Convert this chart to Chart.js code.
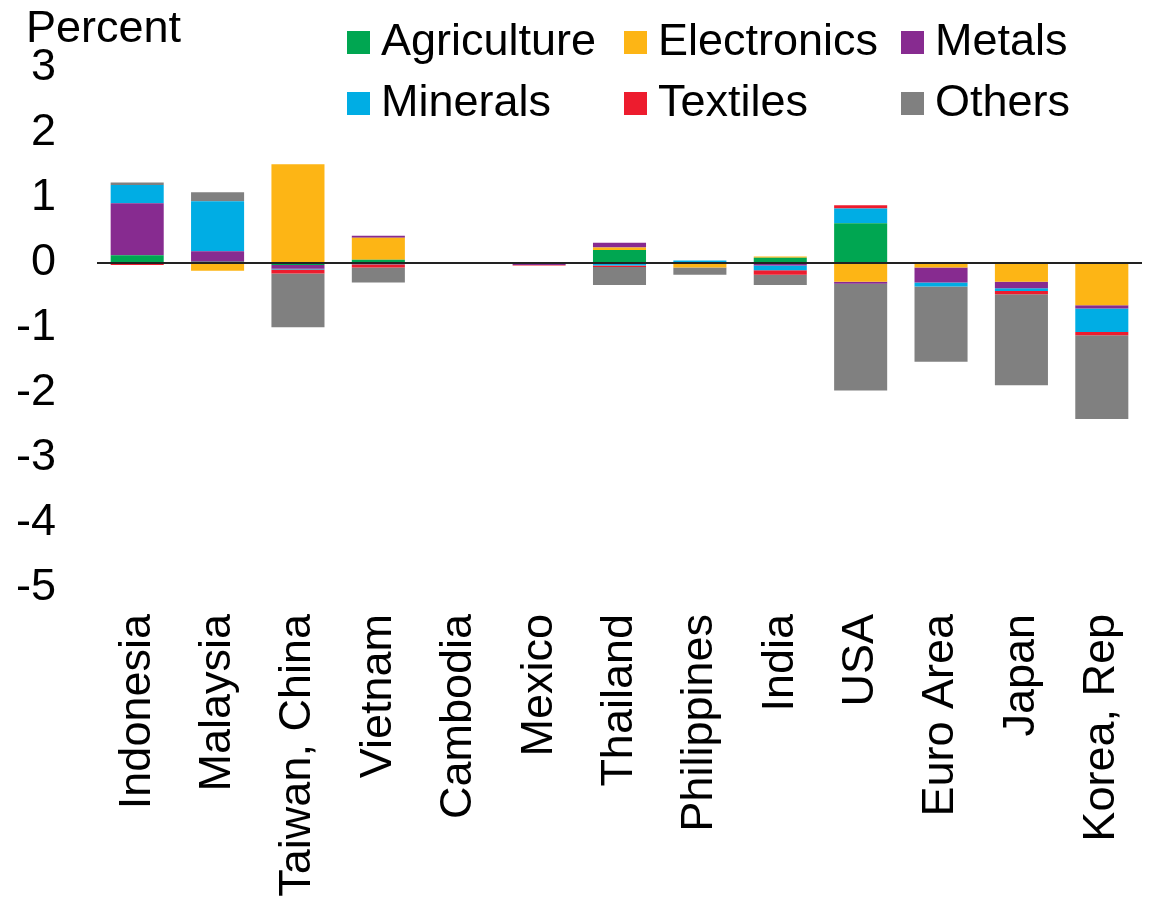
<!DOCTYPE html>
<html>
<head>
<meta charset="utf-8">
<script src="https://cdn.jsdelivr.net/npm/chart.js@4.4.1/dist/chart.umd.min.js"></script>
<style>
  html, body { margin: 0; padding: 0; background: #fff; }
  #wrap { position: relative; width: 1156px; height: 899px; }
</style>
</head>
<body>
<div id="wrap"><canvas id="exportChart"></canvas></div>
<script>
const countries = ['Indonesia', 'Malaysia', 'Taiwan, China', 'Vietnam', 'Cambodia', 'Mexico',
    'Thailand', 'Philippines', 'India', 'USA', 'Euro Area', 'Japan', 'Korea, Rep'];

const agriculture = [0.12, 0.02, -0.03, 0.05, 0.01, 0, 0.20, 0, 0.08, 0.61, 0, 0, 0];
const electronics = [0, -0.12, 1.52, 0.34, 0, 0, 0.04, -0.07, 0.02, -0.29, -0.07, -0.29, -0.65];
const metals      = [0.80, 0.16, -0.06, 0.03, 0, -0.03, 0.07, 0, -0.04, -0.03, -0.23, -0.10, -0.05];
const minerals    = [0.28, 0.77, -0.01, -0.02, 0, 0, -0.04, 0.04, -0.07, 0.23, -0.06, -0.04, -0.36];
const textiles    = [-0.03, 0, -0.06, -0.05, 0, -0.01, -0.02, 0, -0.07, 0.05, 0, -0.05, -0.05];
const others      = [0.04, 0.14, -0.83, -0.23, 0, 0, -0.28, -0.11, -0.16, -1.64, -1.16, -1.40, -1.29];

const yTicks = [3, 2, 1, 0, -1, -2, -3, -4, -5];

const FONT = 'Liberation Sans, Arial, Helvetica, sans-serif';
const FONT_SIZE = 45;

const series = [
    { label: 'Agriculture', data: agriculture, color: '#00a651' },
    { label: 'Electronics', data: electronics, color: '#fdb515' },
    { label: 'Metals',      data: metals,      color: '#872b90' },
    { label: 'Minerals',    data: minerals,    color: '#00ade4' },
    { label: 'Textiles',    data: textiles,    color: '#ed1c2e' },
    { label: 'Others',      data: others,      color: '#808080' }
];

// Zero line on top of the bars, plus the unit label and a 3-column legend
const overlayPlugin = {
    id: 'overlay',
    afterDatasetsDraw(chart) {
        const { ctx, chartArea, scales } = chart;
        const y0 = scales.y.getPixelForValue(0);
        ctx.save();
        ctx.strokeStyle = '#222';
        ctx.lineWidth = 2;
        ctx.beginPath();
        ctx.moveTo(chartArea.left, y0);
        ctx.lineTo(chartArea.right, y0);
        ctx.stroke();
        ctx.restore();
    },
    afterDraw(chart) {
        const ctx = chart.ctx;
        ctx.save();
        ctx.font = FONT_SIZE + 'px ' + FONT;
        ctx.fillStyle = '#000';
        ctx.textBaseline = 'alphabetic';
        ctx.textAlign = 'left';
        ctx.fillText('Percent', 26, 42);

        const colX = [347, 624, 901];
        const rowY = [31, 92];
        series.forEach((s, i) => {
            const x = colX[i % 3];
            const y = rowY[Math.floor(i / 3)];
            ctx.fillStyle = s.color;
            ctx.fillRect(x, y, 23, 23);
            ctx.fillStyle = '#000';
            ctx.fillText(s.label, x + 34, y + 24);
        });
        ctx.restore();
    }
};

new Chart(document.getElementById('exportChart'), {
    type: 'bar',
    data: {
        labels: countries,
        datasets: series.map(s => ({
            label: s.label,
            data: s.data,
            backgroundColor: s.color,
            borderWidth: 0,
            categoryPercentage: 1,
            barPercentage: 0.66
        }))
    },
    options: {
        responsive: true,
        maintainAspectRatio: false,
        animation: false,
        layout: { padding: { left: 17, right: 14, top: 68, bottom: 0 } },
        plugins: {
            legend: { display: false },
            tooltip: { enabled: false }
        },
        scales: {
            x: {
                stacked: true,
                grid: { display: false, drawTicks: false },
                border: { display: false },
                afterFit(axis) {
                    axis.height = 311;
                    axis.paddingLeft = 0;
                    axis.paddingRight = 0;
                },
                ticks: {
                    autoSkip: false,
                    minRotation: 90,
                    maxRotation: 90,
                    padding: 26,
                    color: '#000',
                    font: { family: FONT, size: FONT_SIZE }
                }
            },
            y: {
                stacked: true,
                min: -5,
                max: 3,
                afterBuildTicks(axis) {
                    axis.ticks = yTicks.map(v => ({ value: v }));
                },
                afterFit(axis) {
                    axis.width = 80;
                },
                grid: { display: false, drawTicks: false },
                border: { display: false },
                ticks: {
                    padding: 41,
                    color: '#000',
                    font: { family: FONT, size: FONT_SIZE }
                }
            }
        }
    },
    plugins: [overlayPlugin]
});
</script>
</body>
</html>
